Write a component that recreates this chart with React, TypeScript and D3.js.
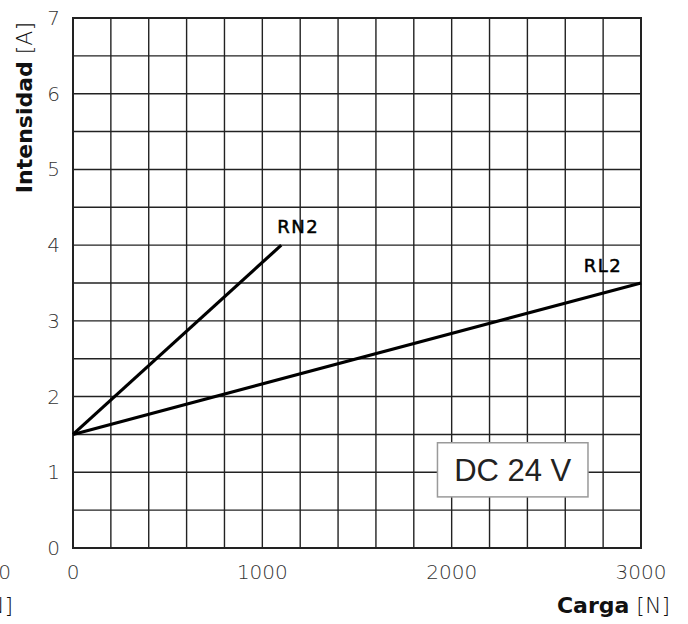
import React from "react";
import * as d3 from "d3";

// Load vs. current for the two actuator models at DC 24 V
const seriesNames = ["RN2", "RL2"];
const rn2Load = [0, 1100];
const rn2Current = [1.5, 4.0];
const rl2Load = [0, 3000];
const rl2Current = [1.5, 3.5];

const xTickValues = [0, 1000, 2000, 3000];
const yTickValues = [0, 1, 2, 3, 4, 5, 6, 7];

const xGridStep = 200;
const yGridStep = 0.5;

const W = 688;
const H = 624;
const M = { left: 73, right: 47, top: 18, bottom: 76 };

const FONT = "'DejaVu Sans', sans-serif";
const INK = "#222";

export default function App() {
  const x = d3.scaleLinear().domain([0, 3000]).range([M.left, W - M.right]);
  const y = d3.scaleLinear().domain([0, 7]).range([H - M.bottom, M.top]);

  const xGrid = d3.range(0, 3000 + 1e-6, xGridStep);
  const yGrid = d3.range(0, 7 + 1e-6, yGridStep);

  const line = d3
    .line<[number, number]>()
    .x((d) => x(d[0]))
    .y((d) => y(d[1]));

  const rn2 = rn2Load.map((v, i) => [v, rn2Current[i]] as [number, number]);
  const rl2 = rl2Load.map((v, i) => [v, rl2Current[i]] as [number, number]);

  const x0 = x(0);
  const x1 = x(3000);
  const y0 = y(0);
  const y1 = y(7);

  return (
    <svg
      width={W}
      height={H}
      style={{ position: "absolute", left: 0, top: 0, background: "#fff" }}
    >
      {/* grid */}
      <g stroke={INK} strokeWidth={1.4}>
        {xGrid.map((v) => (
          <line key={"gx" + v} x1={x(v)} x2={x(v)} y1={y0} y2={y1} />
        ))}
        {yGrid.map((v) => (
          <line key={"gy" + v} x1={x0} x2={x1} y1={y(v)} y2={y(v)} />
        ))}
      </g>
      <rect
        x={x0}
        y={y1}
        width={x1 - x0}
        height={y0 - y1}
        fill="none"
        stroke={INK}
        strokeWidth={2}
      />

      {/* supply voltage box */}
      <g>
        <rect
          x={x(1925)}
          y={y(1.39)}
          width={x(2720) - x(1925)}
          height={y(0.675) - y(1.39)}
          fill="#fff"
          stroke="#9a9a9a"
          strokeWidth={1.5}
        />
        <text
          x={(x(1925) + x(2720)) / 2}
          y={(y(1.39) + y(0.675)) / 2 + 11}
          textAnchor="middle"
          fontFamily="'Liberation Sans', Arial, sans-serif"
          fontSize={31}
          fill={INK}
        >
          DC 24 V
        </text>
      </g>

      {/* series */}
      <path d={line(rn2) ?? ""} fill="none" stroke="#000" strokeWidth={3.2} />
      <path d={line(rl2) ?? ""} fill="none" stroke="#000" strokeWidth={3.2} />

      <text
        x={x(rn2Load[1]) + 17}
        y={y(rn2Current[1]) - 12}
        textAnchor="middle"
        fontFamily={FONT}
        fontWeight={400}
        fontSize={18}
        letterSpacing={1.5}
        fill="#000"
        stroke="#000"
        strokeWidth={0.5}
      >
        {seriesNames[0]}
      </text>
      <text
        x={x(rl2Load[1]) - 38}
        y={y(rl2Current[1]) - 11}
        textAnchor="middle"
        fontFamily={FONT}
        fontWeight={400}
        fontSize={18}
        letterSpacing={1.5}
        fill="#000"
        stroke="#000"
        strokeWidth={0.5}
      >
        {seriesNames[1]}
      </text>

      {/* tick labels */}
      <g fontFamily={FONT} fontSize={20} fontWeight={200} fill="#333">
        {yTickValues.map((v) => (
          <text key={"ty" + v} x={60} y={y(v) + 7} textAnchor="end">
            {v}
          </text>
        ))}
        {xTickValues.map((v) => (
          <text key={"tx" + v} x={x(v)} y={579} textAnchor="middle">
            {v}
          </text>
        ))}
        {/* neighbouring panel's last tick */}
        <text x={11} y={579} textAnchor="end">
          3000
        </text>
      </g>

      {/* axis titles */}
      <text
        x={670}
        y={613}
        textAnchor="end"
        fontFamily={FONT}
        fontSize={22}
        fill="#111"
      >
        <tspan fontWeight={700}>Carga</tspan>
        <tspan fontWeight={200}> [N]</tspan>
      </text>
      <text
        x={13}
        y={613}
        textAnchor="end"
        fontFamily={FONT}
        fontSize={22}
        fill="#111"
      >
        <tspan fontWeight={700}>Carga</tspan>
        <tspan fontWeight={200}> [N]</tspan>
      </text>
      <text
        transform="translate(32,22) rotate(-90)"
        textAnchor="end"
        fontFamily={FONT}
        fontSize={22}
        fill="#111"
      >
        <tspan fontWeight={700}>Intensidad</tspan>
        <tspan fontWeight={200}> [A]</tspan>
      </text>
    </svg>
  );
}
